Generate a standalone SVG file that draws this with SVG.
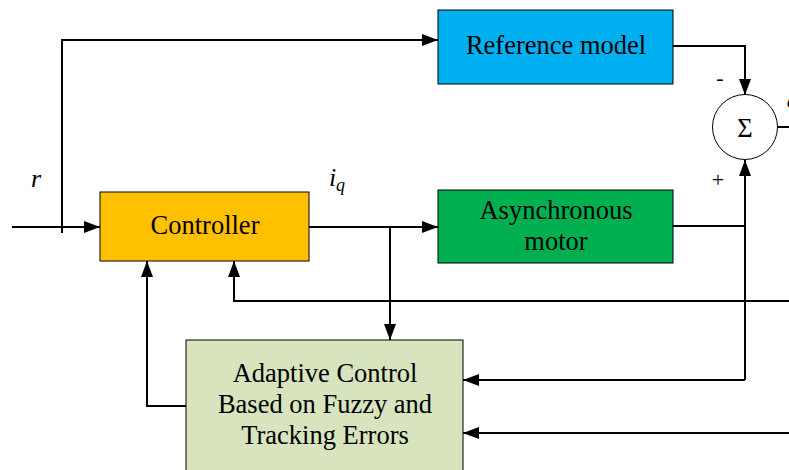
<svg xmlns="http://www.w3.org/2000/svg" width="789" height="470" viewBox="0 0 789 470">
<style>
.box{stroke:#000;stroke-width:1}
.ln{fill:none;stroke:#000;stroke-width:2}
</style>
<defs>
<marker id="a" markerWidth="16" markerHeight="12" refX="16" refY="6" orient="auto" markerUnits="userSpaceOnUse">
<path d="M0,0 L16,6 L0,12 Z" fill="#000"/>
</marker>
</defs>
<rect width="789" height="470" fill="#fff"/>
<g id="connectors">
<path class="ln" d="M12,227 H100" marker-end="url(#a)"/>
<path class="ln" d="M62,233 V40 H438" marker-end="url(#a)"/>
<path class="ln" d="M309,227 H438" marker-end="url(#a)"/>
<path class="ln" d="M390,227 V340" marker-end="url(#a)"/>
<path class="ln" d="M673,46 H745 V95" marker-end="url(#a)"/>
<path class="ln" d="M673,226 H745"/>
<path class="ln" d="M745,380 V160" marker-end="url(#a)"/>
<path class="ln" d="M745,380 H463" marker-end="url(#a)"/>
<path class="ln" d="M777,127 H789"/>
<path class="ln" d="M789,301 H234 V261" marker-end="url(#a)"/>
<path class="ln" d="M789,433 H463" marker-end="url(#a)"/>
<path class="ln" d="M186,406 H147 V261" marker-end="url(#a)"/>
</g>
<g font-family="'Liberation Serif','Times New Roman',serif" font-size="26.5" fill="#000" text-anchor="middle">
<g id="ref">
<rect class="box" x="438" y="10" width="235" height="74" fill="#00B0F0"/>
<text x="556" y="54">Reference model</text>
</g>
<g id="controller">
<rect class="box" x="100" y="192" width="209" height="69" fill="#FFC000"/>
<text x="205" y="234">Controller</text>
</g>
<g id="motor">
<rect class="box" x="438" y="190" width="235" height="73" fill="#00B050"/>
<text x="556" y="219">Asynchronous</text>
<text x="556" y="250">motor</text>
</g>
<g id="adaptive">
<rect class="box" x="186" y="340" width="277" height="140" fill="#D7E4BD"/>
<text x="325" y="382">Adaptive Control</text>
<text x="325" y="413">Based on Fuzzy and</text>
<text x="325" y="444">Tracking Errors</text>
</g>
<g id="sum">
<circle cx="745" cy="127" r="32.5" fill="#fff" stroke="#000" stroke-width="1"/>
<text x="745" y="137">Σ</text>
<text x="720" y="85" font-size="22">-</text>
<text x="718" y="187" font-size="22">+</text>
<text x="792" y="108" font-size="24" font-style="italic">e</text>
</g>
<g id="labels">
<text x="36" y="187" font-style="italic" font-size="26">r</text>
<text x="337" y="186" font-style="italic" font-size="26">i<tspan dy="5" font-size="18">q</tspan></text>
</g>
</g>
</svg>
